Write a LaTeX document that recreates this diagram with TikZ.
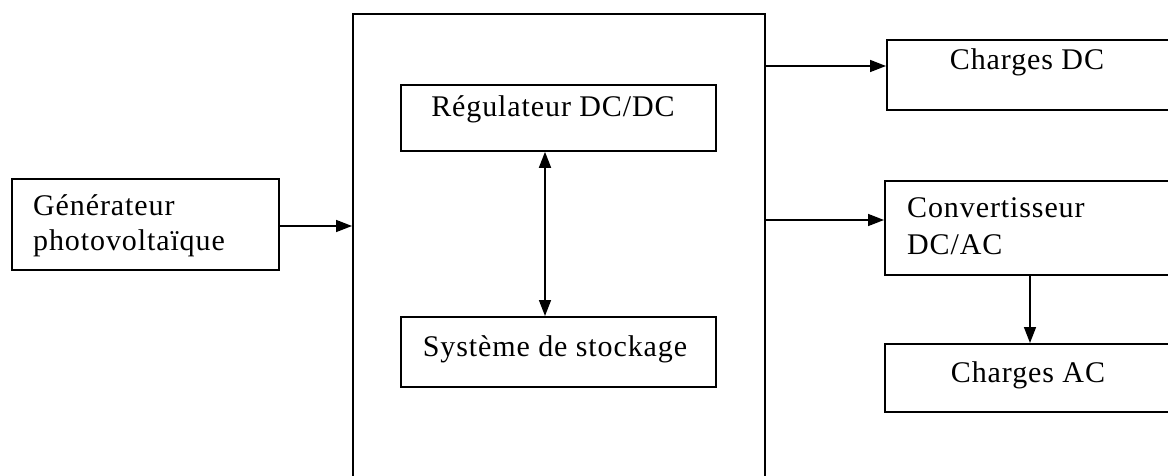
\documentclass[tikz,border=0pt]{standalone}
\usepackage{fontspec}
\setmainfont[LetterSpace=3]{Liberation Serif}
\usetikzlibrary{arrows.meta}
\begin{document}
\begin{tikzpicture}[x=1pt,y=-1pt,
  frame/.style={draw, line width=1.8pt, inner sep=0pt, anchor=north west},
  lbl/.style={font=\fontsize{30}{36}\selectfont, inner sep=0pt},
  tip/.style={Triangle[length=16pt,width=12pt]},
  link/.style={line width=1.6pt, -{Triangle[length=16pt,width=12pt]}},
  both/.style={line width=1.6pt, {Triangle[length=16pt,width=12pt]}-{Triangle[length=16pt,width=12pt]}},
]
\useasboundingbox (0,0) rectangle (1168,476);
\clip (0,0) rectangle (1168,476);

% central unit (runs off the bottom edge)
\node[frame, minimum width=412, minimum height=480] (unit) at (352,13) {};
\node[frame, minimum width=315, minimum height=66] (reg) at (400,84) {};
\node[frame, minimum width=315, minimum height=70] (sto) at (400,316) {};

% source
\node[frame, minimum width=267, minimum height=91] (gen) at (11,178) {};

% loads (run off the right edge)
\node[frame, minimum width=300, minimum height=70] (dc) at (886,39) {};
\node[frame, minimum width=300, minimum height=94] (conv) at (884,180) {};
\node[frame, minimum width=300, minimum height=68] (ac) at (884,343) {};

% labels
\node[lbl, anchor=base] (regt) at (553,117) {Régulateur DC/DC};
\node[lbl, anchor=base] (stot) at (555,356) {Système de stockage};
\node[lbl, anchor=base west] (gent1) at (33,215) {Générateur};
\node[lbl, anchor=base west] (gent2) at (33,251) {photovoltaïque};
\node[lbl, anchor=base] (dct) at (1027,70) {Charges DC};
\node[lbl, anchor=base west] (convt1) at (907,218) {Convertisseur};
\node[lbl, anchor=base west] (convt2) at (907,254) {DC/AC};
\node[lbl, anchor=base] (act) at (1028,382) {Charges AC};

% connections
\coordinate (genout) at (gen.east |- 0,226);
\draw[link] (genout) -- (unit.west |- genout);
\coordinate (dcout) at (unit.east |- 0,66);
\draw[link] (dcout) -- (dc.west |- dcout);
\coordinate (acout) at (unit.east |- 0,220);
\draw[link] (acout) -- (conv.west |- acout);
\draw[both] (reg.south -| 545,0) -- (sto.north -| 545,0);
\draw[link] (conv.south -| 1030,0) -- (ac.north -| 1030,0);
\end{tikzpicture}
\end{document}
